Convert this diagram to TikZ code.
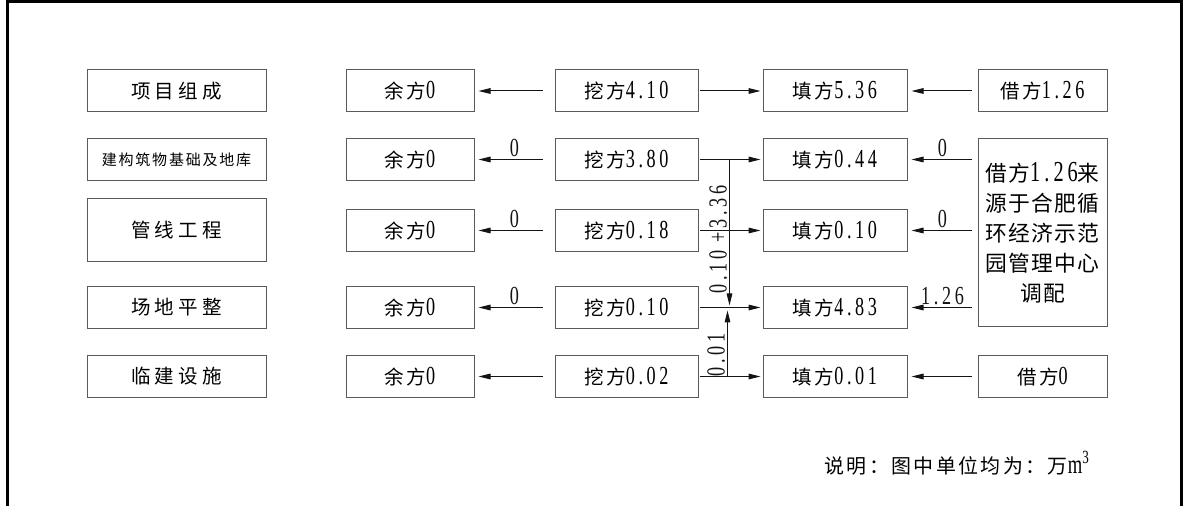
\documentclass[tikz,border=0pt]{standalone}
\usepackage{fontspec}
\setmainfont{Liberation Serif}[FakeStretch=0.7, LetterSpace=14]
\newfontfamily\zh{Noto Sans CJK SC}[Scale=0.75, LetterSpace=12]
\usetikzlibrary{arrows.meta, positioning}
\definecolor{mydark}{RGB}{20,20,20}
\definecolor{mgframe}{RGB}{90,90,90}
\tikzset{
  partblock/.style={rectangle, draw=mgframe, minimum width=89.5pt,
    minimum height=21pt, inner sep=0pt, line width=0.5pt,
    font=\fontsize{13}{15}\selectfont\zh\addfontfeatures{LetterSpace=22}},
  smallpart/.style={partblock, font=\fontsize{10}{12}\selectfont\zh},
  block/.style={rectangle, draw=mgframe, minimum width=64pt,
    minimum height=21pt, inner sep=0pt, line width=0.5pt,
    font=\fontsize{13}{15}\selectfont},
  wblock/.style={block, minimum width=72pt},
  srcblock/.style={block, minimum width=64.5pt, minimum height=94pt,
    align=center, font=\fontsize{14.5}{15}\selectfont\zh\addfontfeatures{LetterSpace=6}},
  arrow/.style={-{Triangle[length=6pt,width=2.8pt]}, line width=0.5pt, color=mydark},
  numlabel/.style={font=\fontsize{13}{15}\selectfont, inner sep=1pt},
  frame/.style={line width=1.5pt, color=black}
}
\begin{document}
\begin{tikzpicture}[x=0.5pt, y=-0.5pt]
  \useasboundingbox (0,0) rectangle (1183,506);
  \draw[frame] (7,506) -- (7,2) -- (1181,2) -- (1181,506);
  % project parts
  \node[partblock] (comp1) at (176.5,91) {项目组成};
  \node[smallpart] (comp2) at (176.5,159.5) {建构筑物基础及地库};
  \node[partblock, minimum height=31.5pt] (comp3) at (176.5,230.5) {管线工程};
  \node[partblock] (comp4) at (176.5,307.5) {场地平整};
  \node[partblock] (comp5) at (176.5,376.5) {临建设施};
  % spare soil
  \node[block, right=39.5pt of comp1] (spare1) {{\zh 余方}0};
  \node[block, right=39.5pt of comp2] (spare2) {{\zh 余方}0};
  \node[block, right=39.5pt of comp3] (spare3) {{\zh 余方}0};
  \node[block, right=39.5pt of comp4] (spare4) {{\zh 余方}0};
  \node[block, right=39.5pt of comp5] (spare5) {{\zh 余方}0};
  % cut
  \node[block, minimum width=71.5pt, right=40pt of spare1] (cut1) {{\zh 挖方}4.10};
  \node[block, minimum width=71.5pt, right=40pt of spare2] (cut2) {{\zh 挖方}3.80};
  \node[block, minimum width=71.5pt, right=40pt of spare3] (cut3) {{\zh 挖方}0.18};
  \node[block, minimum width=71.5pt, right=40pt of spare4] (cut4) {{\zh 挖方}0.10};
  \node[block, minimum width=71.5pt, right=40pt of spare5] (cut5) {{\zh 挖方}0.02};
  % fill
  \node[wblock, right=32pt of cut1] (fill1) {{\zh 填方}5.36};
  \node[wblock, right=32pt of cut2] (fill2) {{\zh 填方}0.44};
  \node[wblock, right=32pt of cut3] (fill3) {{\zh 填方}0.10};
  \node[wblock, right=32pt of cut4] (fill4) {{\zh 填方}4.83};
  \node[wblock, right=32pt of cut5] (fill5) {{\zh 填方}0.01};
  % borrow
  \node[block, minimum width=64.5pt, right=35pt of fill1] (borrow1) {{\zh 借方}1.26};
  \node[block, minimum width=64.5pt, right=35pt of fill5] (borrow5) {{\zh 借方}0};
  \node[srcblock, right=35pt of fill2.north east, anchor=north west] (src)
    {借方{\rmfamily 1.26}来\\源于合肥循\\环经济示范\\园管理中心\\调配};
  % cut -> spare
  \draw[arrow, shorten <=6pt, shorten >=2pt] (cut1) -- (spare1);
  \draw[arrow, shorten <=6pt, shorten >=2pt] (cut2) -- node[numlabel, above]{0} (spare2);
  \draw[arrow, shorten <=6pt, shorten >=2pt] (cut3) -- node[numlabel, above]{0} (spare3);
  \draw[arrow, shorten <=6pt, shorten >=2pt] (cut4) -- node[numlabel, above]{0} (spare4);
  \draw[arrow, shorten <=6pt, shorten >=2pt] (cut5) -- (spare5);
  % cut -> fill
  \draw[arrow, shorten <=0.5pt, shorten >=1pt] (cut1) -- (fill1);
  \draw[arrow, shorten <=0.5pt, shorten >=1pt] (cut2) -- (fill2);
  \draw[arrow, shorten <=0.5pt, shorten >=1pt] (cut3) -- (fill3);
  \draw[arrow, shorten <=0.5pt, shorten >=1pt] (cut4) -- (fill4);
  \draw[arrow, shorten <=0.5pt, shorten >=1pt] (cut5) -- (fill5);
  % transfers into fill 4.83
  \coordinate (jn2) at ([xshift=15.5pt]cut2.east);
  \coordinate (jn5) at ([xshift=14.5pt]cut5.east);
  \draw[arrow, shorten >=1pt] (jn2) -- node[numlabel, rotate=90, anchor=south, pos=0.54]{0.10 +3.36} (jn2 |- fill4);
  \draw[arrow, shorten >=1.5pt] (jn5) -- node[numlabel, rotate=90, anchor=south, pos=0.31]{0.01} (jn5 |- fill4);
  % borrow -> fill
  \draw[arrow, shorten <=3pt, shorten >=2pt] (borrow1) -- (fill1);
  \draw[arrow, shorten <=3pt, shorten >=2pt] (src.west |- fill2) -- node[numlabel, above]{0} (fill2);
  \draw[arrow, shorten <=3pt, shorten >=2pt] (src.west |- fill3) -- node[numlabel, above]{0} (fill3);
  \draw[arrow, shorten <=3pt, shorten >=2pt] (src.west |- fill4) -- node[numlabel, above]{1.26} (fill4);
  \draw[arrow, shorten <=3pt, shorten >=2pt] (borrow5) -- (fill5);
  % note
  \node[anchor=east, font=\fontsize{13.3}{16}\selectfont] (note) at (1097,463)
    {{\zh 说明：图中单位均为：万}m\textsuperscript{3}};
\end{tikzpicture}
\end{document}
